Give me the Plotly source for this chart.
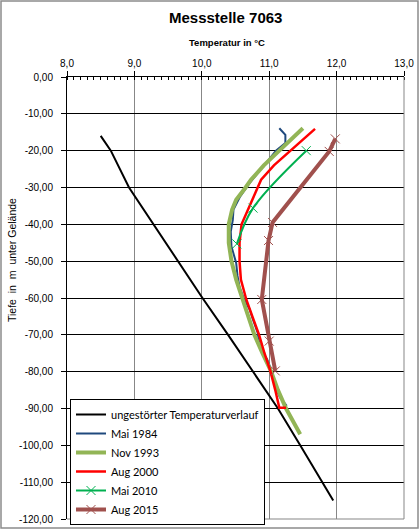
import plotly.graph_objects as go

# ---------------- data ----------------
x_ticks = [8.0, 9.0, 10.0, 11.0, 12.0, 13.0]
x_ticktext = ["8,0", "9,0", "10,0", "11,0", "12,0", "13,0"]
y_ticks = [0, -10, -20, -30, -40, -50, -60, -70, -80, -90, -100, -110, -120]
y_ticktext = ["0,00", "-10,00", "-20,00", "-30,00", "-40,00", "-50,00", "-60,00",
              "-70,00", "-80,00", "-90,00", "-100,00", "-110,00", "-120,00"]

undist_depth = [-16, -20, -30, -40, -50, -60, -70, -80, -90, -100, -110, -115]
undist_temp = [8.50, 8.65, 8.92, 9.28, 9.64, 10.01, 10.39, 10.76, 11.13, 11.46, 11.79, 11.95]

mai1984_depth = [-13.9, -15.7, -17.9, -20, -23, -26, -29, -32.4, -36, -38.8, -42, -46, -50.5,
                 -54, -57, -60, -63.1, -65.9, -69.5, -72, -74, -76.7, -79, -81.2, -84, -87, -89.3]
mai1984_temp = [11.15, 11.24, 11.24, 11.10, 10.97, 10.84, 10.70, 10.57, 10.47, 10.46, 10.43, 10.44, 10.51,
                10.53, 10.56, 10.62, 10.71, 10.76, 10.83, 10.85, 10.88, 10.97, 11.02, 11.05, 11.09, 11.16, 11.26]

nov1993_depth = [-13.9, -17, -20, -24, -27.9, -30, -33.3, -36, -40, -45, -50, -55, -60,
                 -65, -70, -75, -80, -85, -90, -94, -97]
nov1993_temp = [11.50, 11.33, 11.15, 10.92, 10.73, 10.65, 10.51, 10.45, 10.40, 10.40, 10.44, 10.51, 10.60,
                10.68, 10.78, 10.90, 11.03, 11.13, 11.25, 11.37, 11.46]

aug2000_depth = [-14.1, -17, -20.2, -24, -27.9, -30, -35, -40, -45, -50, -55, -58.6, -60.4,
                 -65, -70, -75, -80, -85, -89.8, -89.8]
aug2000_temp = [11.68, 11.50, 11.30, 11.07, 10.88, 10.83, 10.70, 10.59, 10.56, 10.56, 10.58, 10.63, 10.66,
                10.75, 10.85, 10.93, 11.02, 11.09, 11.15, 11.25]

mai2010_depth = [-20.0, -35.6, -45.3]
mai2010_temp = [11.55, 10.76, 10.52]

aug2015_depth = [-16.8, -20.2, -39.5, -44.4, -60.4, -71.7, -79.8]
aug2015_temp = [11.98, 11.89, 11.05, 10.99, 10.89, 11.00, 11.09]

# ---------------- figure ----------------
L, R, T, B = 67, 16, 77, 11
W, H = 420, 530
pw, ph = W - L - R, H - T - B

def px_x(p):
    return (p - L) / pw

def px_y(p):
    return (H - B - p) / ph

fig = go.Figure()

series = [
    ("ungestörter Temperaturverlauf", undist_temp, undist_depth, "#000000", 2, None, "linear"),
    ("Mai 1984", mai1984_temp, mai1984_depth, "#1F497D", 2, None, "linear"),
    ("Nov 1993", nov1993_temp, nov1993_depth, "#92B556", 4, None, "linear"),
    ("Aug 2000", aug2000_temp, aug2000_depth, "#FF0000", 2.5, None, "linear"),
    ("Mai 2010", mai2010_temp, mai2010_depth, "#00B050", 2, "x-thin", "spline"),
    ("Aug 2015", aug2015_temp, aug2015_depth, "#A0504D", 4, "x-thin", "linear"),
]
for name, xs, ys, col, lw, sym, shape in series:
    if sym:
        fig.add_trace(go.Scatter(
            x=xs, y=ys, name=name, mode="lines+markers",
            line=dict(color=col, width=lw, shape=shape),
            marker=dict(symbol=sym, size=9, line=dict(color=col, width=1), color=col),
        ))
    else:
        fig.add_trace(go.Scatter(
            x=xs, y=ys, name=name, mode="lines",
            line=dict(color=col, width=lw, shape=shape),
        ))

fig.update_layout(
    width=W, height=H,
    margin=dict(l=L, r=R, t=T, b=B, pad=0, autoexpand=False),
    paper_bgcolor="white", plot_bgcolor="white",
    font=dict(family="Liberation Sans, Arial, sans-serif", color="black", size=10),
    showlegend=True,
    legend=dict(
        x=px_x(70), y=px_y(399), xanchor="left", yanchor="top",
        bgcolor="white", bordercolor="black", borderwidth=1,
        font=dict(family="Lato, Liberation Sans, sans-serif", size=11, color="black"),
        tracegroupgap=0,
    ),
    xaxis=dict(
        range=[8, 13], side="top",
        tickvals=x_ticks, ticktext=x_ticktext,
        showline=True, linecolor="black", linewidth=1,
        ticks="outside", ticklen=5, tickcolor="black",
        showgrid=True, gridcolor="#878787", gridwidth=1,
        zeroline=False, automargin=False,
        minor=dict(dtick=0.1, ticks="inside", ticklen=3, tickcolor="black", showgrid=False),
        tickfont=dict(size=10),
        fixedrange=True,
    ),
    yaxis=dict(
        range=[-120, 0],
        tickvals=y_ticks, ticktext=y_ticktext,
        showline=True, linecolor="black", linewidth=1,
        ticks="outside", ticklen=5, tickcolor="black",
        showgrid=True, gridcolor="black", gridwidth=1,
        zeroline=False, automargin=False,
        tickfont=dict(size=10),
        ticklabelstandoff=6,
        fixedrange=True,
    ),
)

# plot-area right/bottom border (gray) and outer chart frame
fig.add_shape(type="line", xref="paper", yref="paper", x0=1, x1=1, y0=0, y1=1,
              line=dict(color="#878787", width=1))
fig.add_shape(type="line", xref="paper", yref="paper", x0=0, x1=1, y0=0, y1=0,
              line=dict(color="#878787", width=1))
fig.add_shape(type="rect", xref="paper", yref="paper",
              x0=px_x(1), x1=px_x(418), y0=px_y(528), y1=px_y(1),
              line=dict(color="#8c8c8c", width=1.5))

# titles
fig.add_annotation(text="<b>Messstelle 7063</b>", xref="paper", yref="paper",
                   x=px_x(225), y=px_y(17), showarrow=False,
                   xanchor="center", yanchor="middle",
                   font=dict(size=15, family="Liberation Sans, Arial, sans-serif"))
fig.add_annotation(text="<b>Temperatur in °C</b>", xref="paper", yref="paper",
                   x=px_x(227), y=px_y(42), showarrow=False,
                   xanchor="center", yanchor="middle",
                   font=dict(size=9.5, family="Liberation Sans, Arial, sans-serif"))
fig.add_annotation(text="Tiefe\u00a0 in\u00a0 m\u00a0 unter Gelände", xref="paper", yref="paper",
                   x=px_x(12), y=px_y(260), showarrow=False, textangle=-90,
                   xanchor="center", yanchor="middle",
                   font=dict(size=10.5, family="Liberation Sans, Arial, sans-serif"))

fig.write_html("out.html", config={"displayModeBar": False})
